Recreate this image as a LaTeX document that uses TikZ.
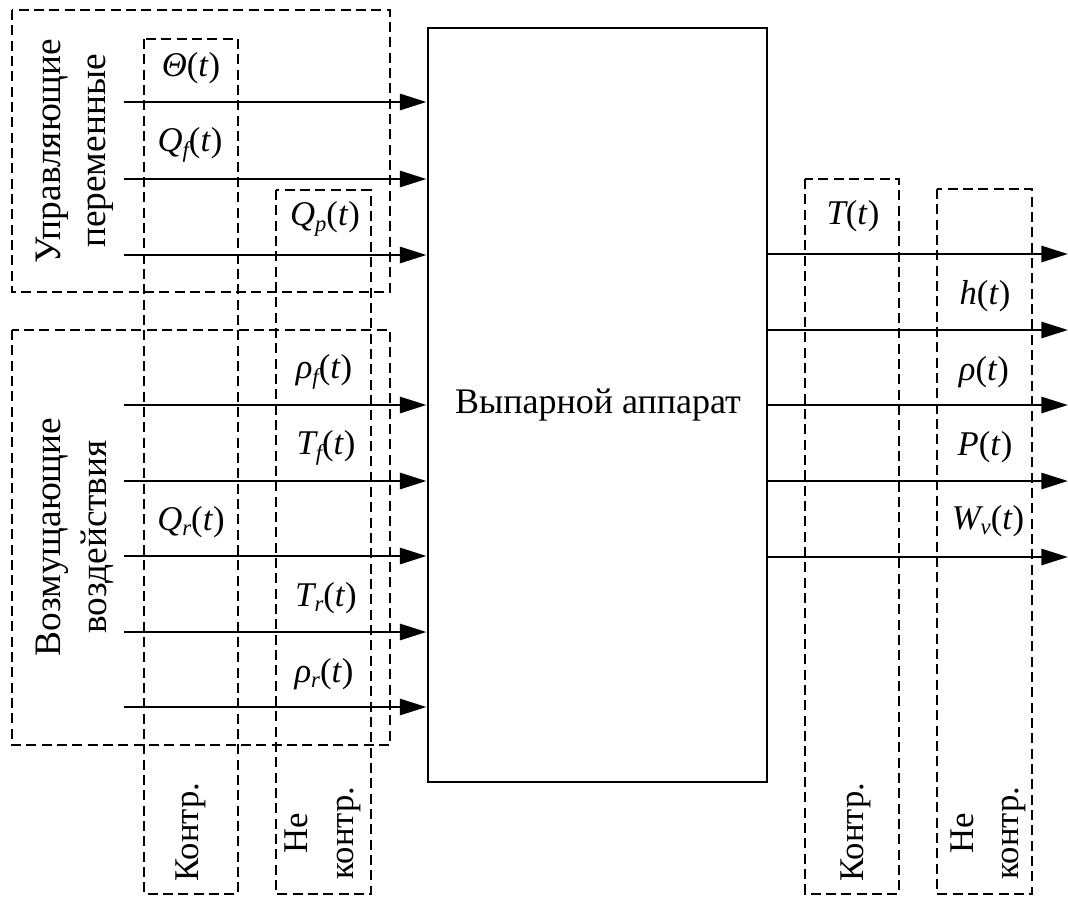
\documentclass[tikz,border=0pt]{standalone}
\usepackage{fontspec}
\setmainfont{Liberation Serif}
\newfontfamily\tnr{Liberation Serif}
\usetikzlibrary{arrows.meta}
\newcommand\sigl[2]{{\itshape #1}\ifx\relax#2\relax\else\raisebox{-0.35ex}{\fontsize{17}{17}\selectfont\itshape #2}\fi(\textit{t})}
\begin{document}
\begin{tikzpicture}[x=0.75pt,y=-0.75pt,
  dbox/.style={draw,dashed,line width=1.1pt,dash pattern=on 7.5pt off 4pt},
  mainbox/.style={draw,line width=2.2pt,fill=white,inner sep=0pt},
  sigarrow/.style={line width=2.2pt,-{Triangle[length=20pt,width=12pt]}},
  lbl/.style={font=\tnr\fontsize{26}{30}\selectfont,inner sep=0pt},
  vlbl/.style={font=\tnr\fontsize{28}{34}\selectfont,align=center,rotate=90,inner sep=0pt},
  klbl/.style={font=\tnr\fontsize{26}{34}\selectfont,align=center,rotate=90,inner sep=0pt}]
\useasboundingbox (0,0) rectangle (1068,897);
% dashed groups
\draw[dbox] (12,10) rectangle (390,292);
\draw[dbox] (12,330) rectangle (390,745);
\draw[dbox] (144,39) rectangle (238,894);
\draw[dbox] (276,190) rectangle (371,894);
\draw[dbox] (805,179) rectangle (899,894);
\draw[dbox] (937,189) rectangle (1032,894);
% main block
\node[mainbox,minimum width=254.25pt,minimum height=565.5pt] (main) at (597.5,405) {};
\node[lbl,font=\tnr\fontsize{27}{30}\selectfont] (mtext) at (598,405) {Выпарной аппарат};
% inputs
\foreach \n/\y in {i1/102,i2/179,i3/255,i4/405,i5/481,i6/556,i7/632,i8/707}{
  \coordinate (\n) at (124,\y);
  \draw[sigarrow] (\n) -- (\n -| main.west);
}
% outputs
\foreach \n/\y in {o1/254,o2/330,o3/405,o4/481,o5/557}{
  \coordinate (\n) at (1068,\y);
  \draw[sigarrow] (\n -| main.east) -- (\n);
}
% input labels
\node[lbl] (l1) at (191,68) {\sigl{Θ}{}};
\node[lbl] (l2) at (190,145) {\sigl{Q}{f}};
\node[lbl] (l3) at (325,219) {\sigl{Q}{p}};
\node[lbl] (l4) at (324,372) {\sigl{ρ}{f}};
\node[lbl] (l5) at (326,448) {\sigl{T}{f}};
\node[lbl] (l6) at (191,522) {\sigl{Q}{r}};
\node[lbl] (l7) at (326,598) {\sigl{T}{r}};
\node[lbl] (l8) at (324,674) {\sigl{ρ}{r}};
% output labels
\node[lbl] (r1) at (853,216) {\sigl{T}{}};
\node[lbl] (r2) at (985,296) {\sigl{h}{}};
\node[lbl] (r3) at (984,372) {\sigl{ρ}{}};
\node[lbl] (r4) at (985,447) {\sigl{P}{}};
\node[lbl] (r5) at (988,521) {\sigl{W}{v}};
% group labels
\node[vlbl] (g1) at (75,151) {Управляющие\\переменные};
\node[vlbl] (g2) at (75,537) {Возмущающие\\воздействия};
\node[klbl] (k1) at (191,832) {Контр.};
\node[klbl] (k2) at (323,833) {Не\\контр.};
\node[klbl] (k3) at (856,832) {Контр.};
\node[klbl] (k4) at (988,833) {Не\\контр.};
\end{tikzpicture}
\end{document}
